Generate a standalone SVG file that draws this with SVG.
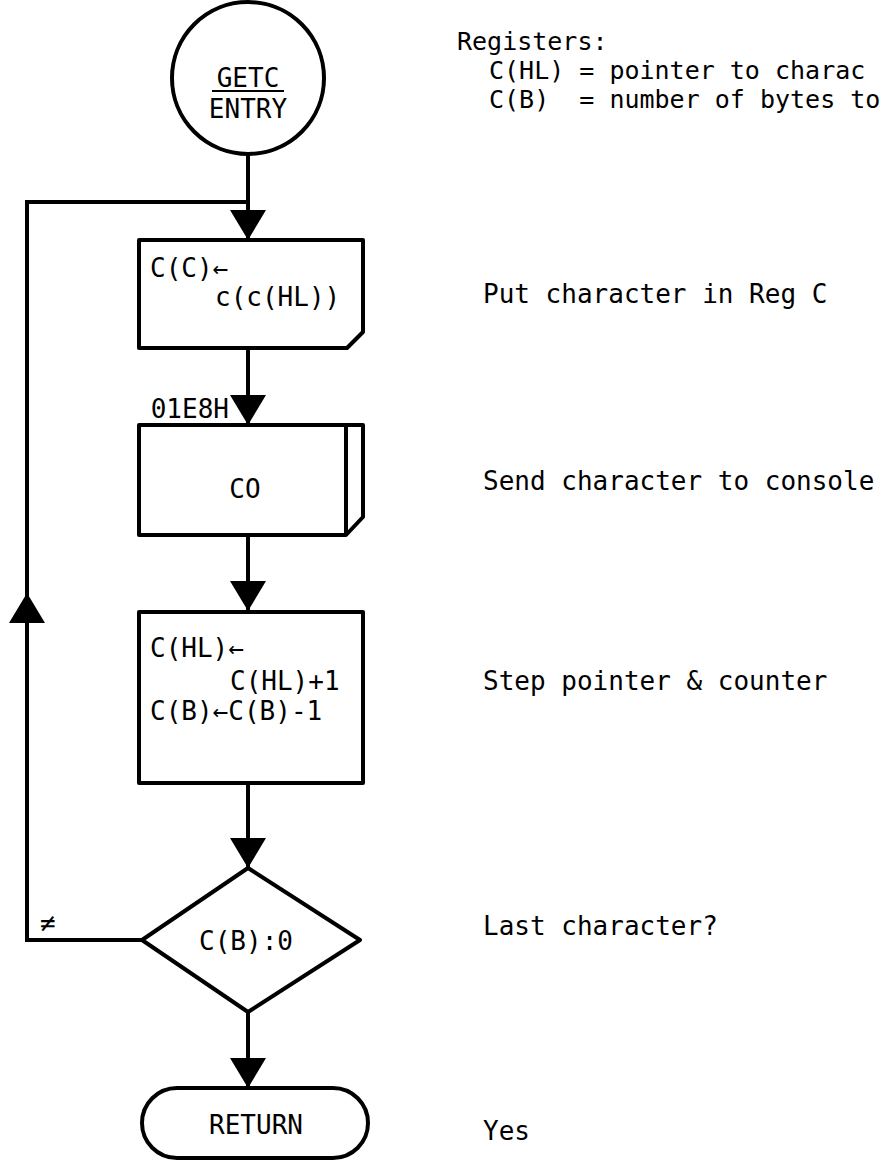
<svg xmlns="http://www.w3.org/2000/svg" width="886" height="1168" viewBox="0 0 886 1168">
<style>
.s{fill:#fff;stroke:#000;stroke-width:4;stroke-linejoin:round}
.c{fill:none;stroke:#000;stroke-width:4}
.t{font-family:"DejaVu Sans Mono","Liberation Mono",monospace;font-size:26px;fill:#000}
.r{font-size:25px}
.m{text-anchor:middle}
</style>
<defs>
<marker id="ah" markerUnits="userSpaceOnUse" viewBox="0 0 30 36" refX="30" refY="18" markerWidth="30" markerHeight="36" orient="auto">
<path d="M0,0 L30,18 L0,36 Z" fill="#000"/>
</marker>
</defs>
<rect width="886" height="1168" fill="#fff"/>
<g id="connectors">
<path class="c" d="M248,154 V240" marker-end="url(#ah)"/>
<path class="c" d="M248,348 V425" marker-end="url(#ah)"/>
<path class="c" d="M248,535 V611" marker-end="url(#ah)"/>
<path class="c" d="M248,783 V868" marker-end="url(#ah)"/>
<path class="c" d="M248,1012 V1088" marker-end="url(#ah)"/>
<path class="c" d="M142,940 H27 V593" marker-end="url(#ah)"/>
<path class="c" d="M27,593 V202 H248"/>
<text class="t" x="229" y="418" text-anchor="end">01E8H</text>
<text class="t" x="40" y="932">≠</text>
</g>
<g id="entry">
<circle class="s" cx="248" cy="78" r="76"/>
<text class="t m" x="248" y="87">GETC</text>
<line x1="212" y1="91" x2="284" y2="91" stroke="#000" stroke-width="2"/>
<text class="t m" x="248" y="118">ENTRY</text>
</g>
<g id="registers">
<text class="t r" x="457" y="50">Registers:</text>
<text class="t r" x="489" y="79" xml:space="preserve">C(HL) = pointer to charac</text>
<text class="t r" x="489" y="108" xml:space="preserve">C(B)  = number of bytes to</text>
</g>
<g id="load">
<path class="s" d="M139,240 H363 V332 L347,348 H139 Z"/>
<text class="t" x="150" y="277">C(C)←</text>
<text class="t" x="215" y="306">c(c(HL))</text>
</g>
<g id="co">
<path class="s" d="M139,425 H363 V517 L346,535 H139 Z"/>
<line class="c" x1="346" y1="425" x2="346" y2="535"/>
<text class="t m" x="245" y="498">CO</text>
</g>
<g id="step">
<rect class="s" x="139" y="612" width="224" height="171"/>
<text class="t" x="150" y="657">C(HL)←</text>
<text class="t" x="230" y="690">C(HL)+1</text>
<text class="t" x="150" y="720">C(B)←C(B)-1</text>
</g>
<g id="test">
<path class="s" d="M248,868 L360,940 L248,1012 L142,940 Z"/>
<text class="t m" x="246" y="950">C(B):0</text>
</g>
<g id="return">
<rect class="s" x="142" y="1088" width="226" height="70" rx="35" ry="35"/>
<text class="t m" x="256" y="1134">RETURN</text>
</g>
<g id="notes">
<text class="t" x="483" y="303">Put character in Reg C</text>
<text class="t" x="483" y="490">Send character to console</text>
<text class="t" x="483" y="690">Step pointer &amp; counter</text>
<text class="t" x="483" y="935">Last character?</text>
<text class="t" x="483" y="1140">Yes</text>
</g>
</svg>
